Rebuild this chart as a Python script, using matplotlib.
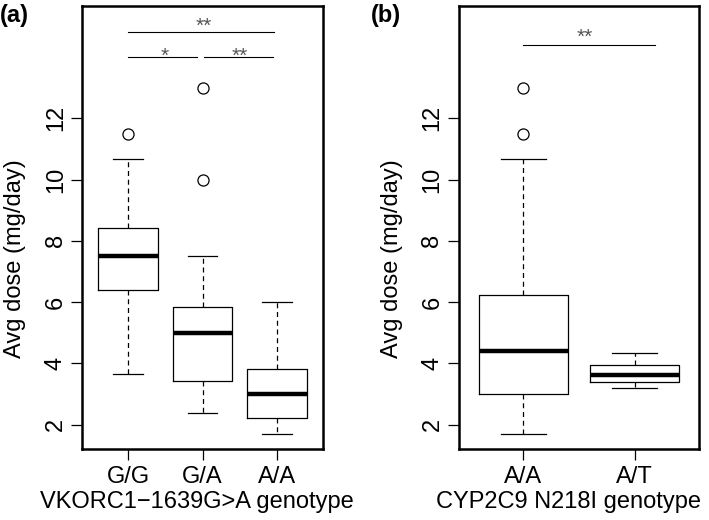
import matplotlib
matplotlib.use('Agg')
import matplotlib.pyplot as plt

plt.rcParams['font.family'] = ['Liberation Sans', 'DejaVu Sans']

# Panel (a): VKORC1-1639G>A genotype
vk_labels = ['G/G', 'G/A', 'A/A']
vk_whislo = [3.66, 2.40, 1.71]
vk_q1 = [6.41, 3.42, 2.21]
vk_med = [7.52, 5.00, 3.01]
vk_q3 = [8.41, 5.84, 3.83]
vk_whishi = [10.67, 7.50, 6.00]
vk_fliers = [[11.5], [13.0, 10.0], []]

# Panel (b): CYP2C9 N218I genotype
cyp_labels = ['A/A', 'A/T']
cyp_whislo = [1.71, 3.21]
cyp_q1 = [2.99, 3.39]
cyp_med = [4.40, 3.61]
cyp_q3 = [6.22, 3.96]
cyp_whishi = [10.67, 4.34]
cyp_fliers = [[13.0, 11.5], []]

# significance brackets: (x0, x1, y, label, text x, text offset)
vk_sig = [(1.0, 2.96, 14.81, '**', 2.02, -0.11),
          (1.0, 1.92, 14.0, '*', 1.49, -0.28),
          (2.02, 2.95, 14.0, '**', 2.5, -0.28)]
cyp_sig = [(1.0, 2.18, 14.40, '**', 1.55, -0.08)]

fig = plt.figure(figsize=(7.09, 5.2), dpi=100)
ax1 = fig.add_axes([0.1157, 0.1365, 0.340, 0.852])
ax2 = fig.add_axes([0.647, 0.1365, 0.3394, 0.852])


def draw_panel(ax, labels, whislo, q1, med, q3, whishi, fliers, sig, xlabel, xlab_x):
    stats = []
    for i in range(len(labels)):
        stats.append(dict(label=labels[i], whislo=whislo[i], q1=q1[i], med=med[i],
                          q3=q3[i], whishi=whishi[i], fliers=fliers[i]))
    n = len(labels)
    ax.bxp(stats, positions=range(1, n + 1), widths=0.8,
           boxprops=dict(color='black', linewidth=0.9),
           medianprops=dict(color='black', linewidth=3.2, solid_capstyle='butt'),
           whiskerprops=dict(color='black', linewidth=0.9, linestyle=(0, (4, 3))),
           capprops=dict(color='black', linewidth=0.9),
           capwidths=0.4,
           flierprops=dict(marker='o', markerfacecolor='none', markeredgecolor='black',
                           markersize=8, markeredgewidth=0.9))
    ax.set_xlim(0.5 - 0.04 * n, n + 0.5 + 0.04 * n)
    ax.set_ylim(1.21, 15.66)
    ax.set_yticks([2, 4, 6, 8, 10, 12])
    ax.set_yticklabels(['2', '4', '6', '8', '10', '12'], rotation=90, va='center')
    ax.set_xticks(range(1, n + 1))
    ax.set_xticklabels(labels)
    ax.tick_params(direction='out', length=8, width=0.9, labelsize=17)
    ax.tick_params(axis='x', pad=4.5)
    ax.tick_params(axis='y', pad=3)
    ax.set_xlabel(xlabel, fontsize=17)
    ax.set_ylabel('Avg dose (mg/day)', fontsize=17)
    ax.xaxis.set_label_coords(xlab_x, -0.1325)
    ax.xaxis.label.set_verticalalignment('baseline')
    ax.yaxis.set_label_coords(-0.278, 0.429)
    ax.yaxis.label.set_verticalalignment('center')
    ax.yaxis.label.set_horizontalalignment('center')
    for sp in ax.spines.values():
        sp.set_linewidth(1.8)
    for x0, x1, y, lab, tx, off in sig:
        ax.plot([x0, x1], [y, y], color='black', linewidth=0.8)
        ax.text(tx, y + off, lab, ha='center', va='bottom', fontsize=15, color='#555555')


draw_panel(ax1, vk_labels, vk_whislo, vk_q1, vk_med, vk_q3, vk_whishi, vk_fliers,
           vk_sig, 'VKORC1\u22121639G>A genotype', 0.475)
draw_panel(ax2, cyp_labels, cyp_whislo, cyp_q1, cyp_med, cyp_q3, cyp_whishi, cyp_fliers,
           cyp_sig, 'CYP2C9 N218I genotype', 0.458)

fig.text(0.0, 0.97, '(a)', fontsize=17, fontweight='bold', ha='left', va='center')
fig.text(0.523, 0.97, '(b)', fontsize=17, fontweight='bold', ha='left', va='center')

fig.savefig('out.png', dpi=100)
